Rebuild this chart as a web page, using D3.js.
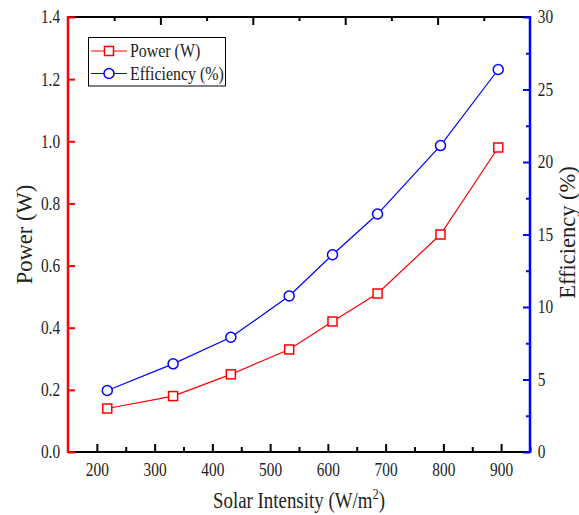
<!DOCTYPE html>
<html><head><meta charset="utf-8">
<script src="https://cdn.jsdelivr.net/npm/d3@7"></script>
<style>body{margin:0;background:#fff}svg{display:block}text{font-family:"Liberation Serif","Times New Roman",serif;fill:#222}</style>
</head><body><svg id="c" width="579" height="515"></svg>
<script>
const intensity = [218, 332, 432, 533, 608, 686, 795, 895];
const power = [0.14, 0.18, 0.25, 0.33, 0.42, 0.51, 0.70, 0.98];
const efficiency = [4.24, 6.08, 7.91, 10.76, 13.6, 16.41, 21.13, 26.38];
const xTicks = [200, 300, 400, 500, 600, 700, 800, 900];
const powerTicks = [0.0, 0.2, 0.4, 0.6, 0.8, 1.0, 1.2, 1.4];
const effTicks = [0, 5, 10, 15, 20, 25, 30];
const seriesNames = ["Power (W)", "Efficiency (%)"];

const svg = d3.select("#c");
const L = 68, R = 530, T = 17, B = 452;
const x = d3.scaleLinear().domain([150, 950]).range([L, R]);
const yP = d3.scaleLinear().domain([0, 1.4]).range([B, T]);
const yE = d3.scaleLinear().domain([0, 30]).range([B, T]);
const xTop = d3.scaleLinear().domain([0, 10]).range([L, R]);
const RED = "#ff0000", BLUE = "#0000ff";
const FS = 18.5, KX = 0.83;
const SERIF = '"Liberation Serif","Times New Roman",serif';

function style(g, color) {
  g.attr("font-family", SERIF);
  g.select(".domain").remove();
  g.selectAll("line").attr("stroke", color).attr("stroke-width", 2);
  g.selectAll("text").attr("font-size", FS).attr("font-family", SERIF).style("fill", "#222")
    .attr("transform", `scale(${KX},1)`);
}

// bottom axis
const gb = svg.append("g").attr("transform", `translate(0,${B})`);
gb.call(d3.axisBottom(x).tickValues(xTicks).tickSize(-8).tickPadding(11).tickFormat(d3.format("d")));
style(gb, "#000");
const gbm = svg.append("g").attr("transform", `translate(0,${B})`);
gbm.call(d3.axisBottom(x).tickValues(xTicks.map(d => d + 50)).tickSize(-5).tickFormat(""));
style(gbm, "#000");
svg.append("line").attr("x1", L).attr("x2", R).attr("y1", B).attr("y2", B).attr("stroke", "#000").attr("stroke-width", 2);

// top axis
const gt = svg.append("g").attr("transform", `translate(0,${T})`);
gt.call(d3.axisTop(xTop).tickValues([2, 4, 6, 8]).tickSize(-8).tickFormat(""));
style(gt, "#000");
const gtm = svg.append("g").attr("transform", `translate(0,${T})`);
gtm.call(d3.axisTop(xTop).tickValues([1, 3, 5, 7, 9]).tickSize(-4).tickFormat(""));
style(gtm, "#000");
svg.append("line").attr("x1", L).attr("x2", R).attr("y1", T).attr("y2", T).attr("stroke", "#000").attr("stroke-width", 2);

// left axis
const gl = svg.append("g").attr("transform", `translate(${L},0)`);
gl.call(d3.axisLeft(yP).tickValues(powerTicks).tickSize(-7).tickPadding(9.5).tickFormat(d3.format(".1f")));
style(gl, RED);
svg.append("line").attr("x1", L).attr("x2", L).attr("y1", T - 1).attr("y2", B + 1).attr("stroke", RED).attr("stroke-width", 2.5);

// right axis
const gr = svg.append("g").attr("transform", `translate(${R},0)`);
gr.call(d3.axisRight(yE).tickValues(effTicks).tickSize(-7).tickPadding(9.5).tickFormat(d3.format("d")));
style(gr, BLUE);
const grm = svg.append("g").attr("transform", `translate(${R},0)`);
grm.call(d3.axisRight(yE).tickValues(effTicks.slice(0, -1).map(d => d + 2.5)).tickSize(-4).tickFormat(""));
style(grm, BLUE);
svg.append("line").attr("x1", R).attr("x2", R).attr("y1", T - 1).attr("y2", B + 1).attr("stroke", BLUE).attr("stroke-width", 2.5);

// series
const lineP = d3.line().x((d, i) => x(intensity[i])).y(d => yP(d));
const lineE = d3.line().x((d, i) => x(intensity[i])).y(d => yE(d));
svg.append("path").attr("d", lineP(power)).attr("fill", "none").attr("stroke", RED).attr("stroke-width", 1.2);
svg.append("path").attr("d", lineE(efficiency)).attr("fill", "none").attr("stroke", BLUE).attr("stroke-width", 1.2);
const S = 9;
svg.selectAll(".sq").data(power).enter().append("rect")
  .attr("x", (d, i) => x(intensity[i]) - S / 2).attr("y", d => yP(d) - S / 2)
  .attr("width", S).attr("height", S).attr("fill", "#fff").attr("stroke", RED).attr("stroke-width", 1.5);
svg.selectAll(".ci").data(efficiency).enter().append("circle")
  .attr("cx", (d, i) => x(intensity[i])).attr("cy", d => yE(d))
  .attr("r", 5).attr("fill", "#fff").attr("stroke", BLUE).attr("stroke-width", 1.5);

// legend
const LK = 0.86;
const lg = svg.append("g");
lg.append("rect").attr("x", 88.5).attr("y", 37.5).attr("width", 137).attr("height", 48.5)
  .attr("fill", "#fff").attr("stroke", "#000").attr("stroke-width", 1);
[[51, RED, "sq"], [73.5, BLUE, "ci"]].forEach(([yy, c, m], i) => {
  lg.append("line").attr("x1", 91).attr("x2", 127).attr("y1", yy).attr("y2", yy).attr("stroke", c).attr("stroke-width", 1.2);
  if (m === "sq") lg.append("rect").attr("x", 109 - S / 2).attr("y", yy - S / 2).attr("width", S).attr("height", S).attr("fill", "#fff").attr("stroke", c).attr("stroke-width", 1.5);
  else lg.append("circle").attr("cx", 109).attr("cy", yy).attr("r", 5).attr("fill", "#fff").attr("stroke", c).attr("stroke-width", 1.5);
  lg.append("text").attr("transform", `scale(${LK},1)`).attr("x", 130 / LK).attr("y", yy).attr("dy", "0.35em").attr("font-size", 18.5).text(seriesNames[i]);
});

// titles
const TK = 0.84;
const xt = svg.append("text").attr("transform", `scale(${TK},1)`).attr("x", (L + R) / 2 / TK).attr("y", 508).attr("text-anchor", "middle").attr("font-size", 22.5);
xt.append("tspan").text("Solar Intensity (W/m");
xt.append("tspan").attr("dy", -9).attr("font-size", 15).text("2");
xt.append("tspan").attr("dy", 9).text(")");
svg.append("text").attr("transform", `translate(32,${(T + B) / 2}) rotate(-90)`).attr("text-anchor", "middle").attr("font-size", 22.5).text("Power (W)");
svg.append("text").attr("transform", `translate(575,${(T + B) / 2 - 2}) rotate(-90)`).attr("text-anchor", "middle").attr("font-size", 22.5).text("Efficiency (%)");
</script></body></html>
